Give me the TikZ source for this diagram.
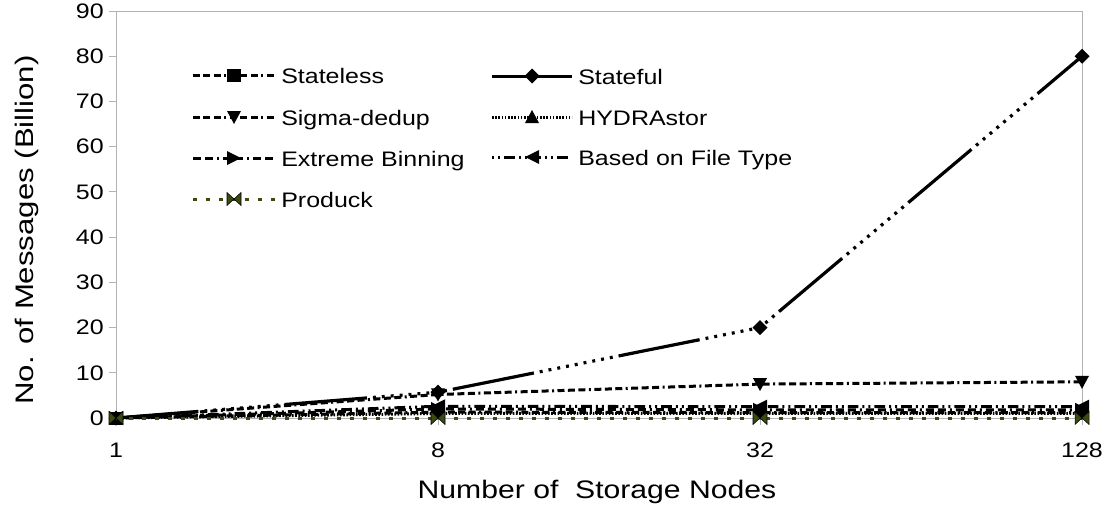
\documentclass[tikz,border=0pt]{standalone}
\usepackage{fontspec}
\newfontfamily\chartfont[FakeStretch=1.19]{Liberation Sans}
\newfontfamily\ytitlefont[FakeStretch=1.23]{Liberation Sans}
\usepackage{tikz}
\definecolor{axisgray}{RGB}{179,179,179}
\definecolor{produckgreen}{RGB}{59,74,17}
% value -> y position
\newcommand{\yv}[1]{418-4.522*#1}
% markers
\newcommand{\mksquare}[1]{\fill (#1) +(-7,-6.5) rectangle +(7,6.5);}
\newcommand{\mkdiamond}[1]{\fill (#1) +(0,-7.5) -- +(7.5,0) -- +(0,7.5) -- +(-7.5,0) -- cycle;}
\newcommand{\mkdown}[1]{\fill (#1) +(-7,-6) -- +(7,-6) -- +(0,7) -- cycle;}
\newcommand{\mkup}[1]{\fill (#1) +(-7,6) -- +(7,6) -- +(0,-7) -- cycle;}
\newcommand{\mkright}[1]{\fill (#1) +(-7,-7) -- +(-7,7) -- +(7,0) -- cycle;}
\newcommand{\mkleft}[1]{\fill (#1) +(7,-7) -- +(7,7) -- +(-7,0) -- cycle;}
\newcommand{\mkbowtie}[1]{\filldraw[fill=produckgreen,draw=black,line width=0.4pt] (#1) +(-7,-6.5) -- +(0,0) -- +(-7,6.5) -- cycle (#1) +(7,-6.5) -- +(0,0) -- +(7,6.5) -- cycle;}

\begin{document}
\begin{tikzpicture}[x=0.75pt,y=0.75pt,yscale=-1,xscale=1,
    axis/.style={draw=axisgray,line width=0.75pt},
    ticklabel/.style={inner sep=0pt,font=\chartfont\fontsize{15.75}{19}\selectfont},
    legtext/.style={inner sep=0pt,anchor=base west,font=\chartfont\fontsize{15.75}{19}\selectfont},
    series/.style={line width=2.25pt,line cap=butt},
    stateless/.style={series,dash pattern=on 5.25pt off 2.6pt on 5.25pt off 2.6pt on 5.25pt off 2.6pt on 1.5pt off 2.6pt},
    statefulleg/.style={series},
    stateful/.style={series,line width=2.4pt,dash pattern=on 62pt off 4.5pt on 2.2pt off 4.5pt on 2.2pt off 4.5pt on 2.2pt off 4.5pt on 2.2pt off 4.5pt on 2.2pt off 4.5pt on 2.2pt off 4.5pt on 2.2pt off 4.5pt on 2.2pt off 4.5pt on 2.2pt off 4.5pt},
    sigma/.style={stateless},
    hydra/.style={series,dash pattern=on 1.2pt off 1.2pt},
    extreme/.style={series,dash pattern=on 6pt off 3pt on 6pt off 3pt on 1.5pt off 3pt},
    filetype/.style={series,dash pattern=on 1.5pt off 3pt on 1.5pt off 3pt on 8pt off 3pt},
    produck/.style={series,draw=produckgreen,dash pattern=on 3pt off 6.75pt}]
    \useasboundingbox (0,0) rectangle (1112,521);

    %Plot frame
    \draw[axis] (116,11) rectangle (1082,418);
    %Y ticks and labels
    \foreach \v in {0,10,...,90}{
        \draw[axis] (109,{\yv{\v}}) -- (116,{\yv{\v}});
        \node[ticklabel,anchor=east] (ylab\v) at (104,{\yv{\v}}) {\v};
    }
    %X ticks and labels
    \foreach \x/\n in {116/1,438/8,760/32,1082/128}{
        \draw[axis] (\x,418) -- (\x,425);
        \node[ticklabel,anchor=base] (xlab\n) at (\x,457) {\n};
    }

    %Stateless
    \draw[stateless] (116,{\yv{0}}) -- (438,{\yv{1.3}}) -- (760,{\yv{1.2}}) -- (1082,{\yv{1.2}});
    \foreach \x/\v in {116/0,438/1.3,760/1.2,1082/1.2}{\mksquare{\x,{\yv{\v}}}}
    %Stateful
    \draw[stateful] (116,{\yv{0}}) -- (438,{\yv{5.7}}) -- (760,{\yv{20}}) -- (1082,{\yv{80}});
    \foreach \x/\v in {116/0,438/5.7,760/20,1082/80}{\mkdiamond{\x,{\yv{\v}}}}
    %Sigma-dedup
    \draw[sigma] (116,{\yv{0}}) -- (438,{\yv{5.2}}) -- (760,{\yv{7.5}}) -- (1082,{\yv{8}});
    \foreach \x/\v in {116/0,438/5.2,760/7.5,1082/8}{\mkdown{\x,{\yv{\v}}}}
    %HYDRAstor
    \draw[hydra] (116,{\yv{0}}) -- (438,{\yv{1}}) -- (760,{\yv{1}}) -- (1082,{\yv{1}});
    \foreach \x/\v in {116/0,438/1,760/1,1082/1}{\mkup{\x,{\yv{\v}}}}
    %Extreme Binning
    \draw[extreme] (116,{\yv{0}}) -- (438,{\yv{2}}) -- (760,{\yv{1.8}}) -- (1082,{\yv{1.8}});
    \foreach \x/\v in {116/0,438/2,760/1.8,1082/1.8}{\mkright{\x,{\yv{\v}}}}
    %Based on File Type
    \draw[filetype] (116,{\yv{0}}) -- (438,{\yv{2.6}}) -- (760,{\yv{2.5}}) -- (1082,{\yv{2.5}});
    \foreach \x/\v in {116/0,438/2.6,760/2.5,1082/2.5}{\mkleft{\x,{\yv{\v}}}}
    %Produck
    \draw[produck] (116,{\yv{0}}) -- (438,{\yv{0}}) -- (760,{\yv{0}}) -- (1082,{\yv{0}});
    \foreach \x in {116,438,760,1082}{\mkbowtie{\x,{\yv{0}}}}

    %Legend
    \draw[stateless] (193,75) -- (275,75);  \mksquare{234,75}
    \node[legtext] (lgstateless) at (281,83.5) {Stateless};
    \draw[sigma] (193,117) -- (275,117);  \mkdown{234,117}
    \node[legtext] (lgsigma) at (281,125.5) {Sigma-dedup};
    \draw[extreme] (193,158) -- (275,158);  \mkright{234,158}
    \node[legtext] (lgextreme) at (281,166.5) {Extreme Binning};
    \draw[produck] (193,199) -- (275,199);  \mkbowtie{234,199}
    \node[legtext] (lgproduck) at (281,207.5) {Produck};
    \draw[statefulleg] (492,76) -- (572,76);  \mkdiamond{532,76}
    \node[legtext] (lgstateful) at (578,84.5) {Stateful};
    \draw[hydra] (492,117) -- (572,117);  \mkup{532,117}
    \node[legtext] (lghydra) at (578,125.5) {HYDRAstor};
    \draw[filetype] (492,157) -- (572,157);  \mkleft{532,157}
    \node[legtext] (lgfiletype) at (578,165.5) {Based on File Type};

    % Axis titles
    \node[inner sep=0pt,anchor=base,font=\chartfont\fontsize{19}{23}\selectfont] (xtitle) at (597,498) {Number of\ \ Storage Nodes};
    \node[inner sep=0pt,rotate=90,font=\ytitlefont\fontsize{19}{23}\selectfont] (ytitle) at (27,230) {No. of Messages (Billion)};
\end{tikzpicture}
\end{document}
